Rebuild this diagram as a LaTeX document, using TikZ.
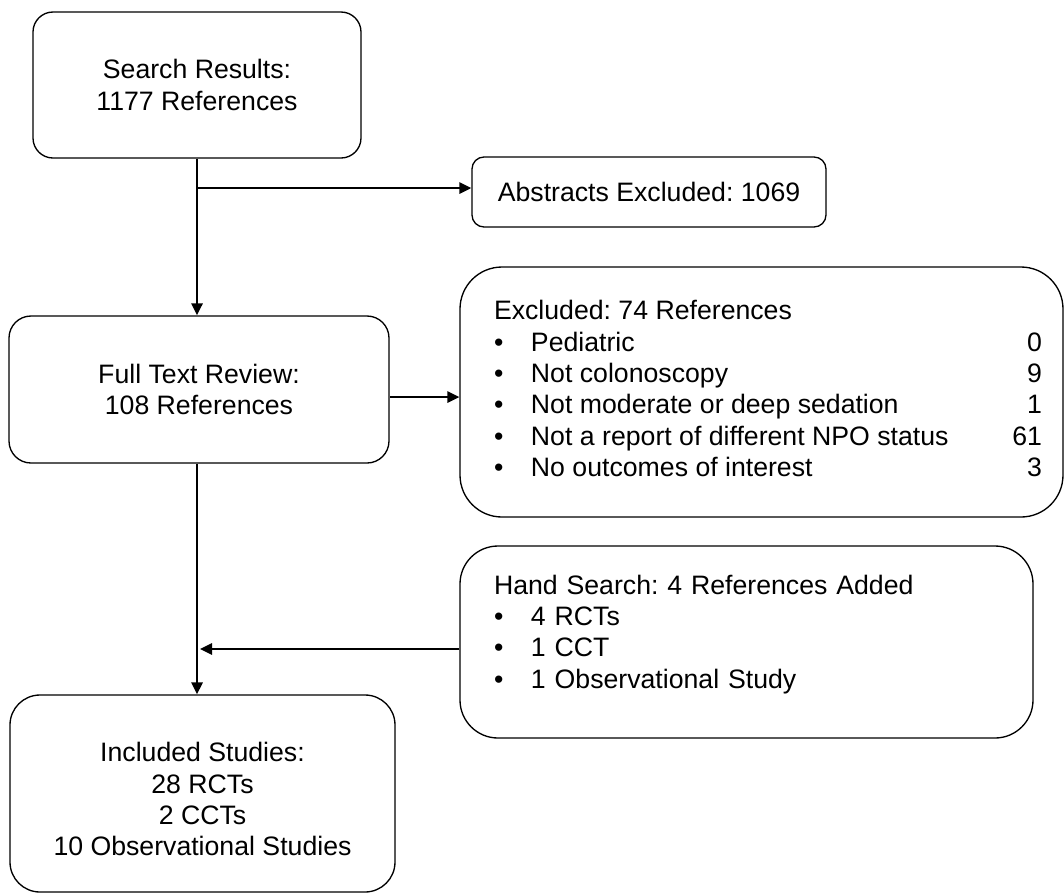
\documentclass[tikz,border=0pt]{standalone}
\usepackage{fontspec}
\setmainfont{Liberation Sans}
\usetikzlibrary{arrows.meta}
\frenchspacing
\begin{document}
\begin{tikzpicture}[x=0.75pt,y=-0.75pt,
    box/.style={draw,line width=1pt,fill=white,align=center,
      font=\fontsize{20}{23.5}\selectfont},
    arr/.style={line width=1.5pt,-{Triangle[length=9pt,width=8.5pt]}}]
  \useasboundingbox (0,0) rectangle (1064,894);
  % boxes
  \node[box,rounded corners=15pt,minimum width=246pt,minimum height=109.5pt]
    (search) at (197,85) {Search Results:\\1177 References};
  \node[box,rounded corners=9pt,minimum width=265.5pt,minimum height=52.5pt]
    (abstr) at (649,192) {Abstracts Excluded: 1069};
  \node[box,rounded corners=16.5pt,minimum width=285pt,minimum height=110.25pt]
    (fulltext) at (199,389.5) {Full Text Review:\\108 References};
  \node[box,rounded corners=31.5pt,minimum width=452.25pt,minimum height=187.5pt]
    (excl) at (761.5,392) {%
    \begin{tabular}{@{\hspace{9.75pt}}p{27.75pt}@{}p{361pt}@{}r@{}}
      \multicolumn{3}{@{\hspace{9.75pt}}l@{}}{Excluded: 74 References}\\
      \textbullet & Pediatric & 0\\
      \textbullet & Not colonoscopy & 9\\
      \textbullet & Not moderate or deep sedation & 1\\
      \textbullet & Not a report of different NPO status & 61\\
      \textbullet & No outcomes of interest & 3
    \end{tabular}};
  \node[box,align=left,text width=378.75pt,rounded corners=28.5pt,
    minimum width=429.75pt,minimum height=144pt] (hand) at (746.5,642) {%
    \begin{tabular}{@{}p{27.75pt}@{}l@{}}
      \multicolumn{2}{@{}l@{}}{Hand Search: 4 References Added}\\
      \textbullet & 4 RCTs\\
      \textbullet & 1 CCT\\
      \textbullet & 1 Observational Study\\[10.5pt]
    \end{tabular}};
  \node[box,rounded corners=22.5pt,minimum width=288.75pt,minimum height=147.75pt]
    (incl) at (202.5,793.5)
    {\rule{0pt}{23pt}Included Studies:\\28 RCTs\\2 CCTs\\10 Observational Studies};
  % connectors
  \coordinate (c1) at (197,188);
  \coordinate (c2) at (390,397);
  \coordinate (c3) at (200,649);
  \draw[arr] (search.south -| c1) -- (fulltext.north -| c1);
  \draw[arr] (c1) -- (c1 -| abstr.west);
  \draw[arr] (c2) -- (c2 -| excl.west);
  \draw[arr] (fulltext.south -| c1) -- (incl.north -| c1);
  \draw[arr] (c3 -| hand.west) -- (c3);
\end{tikzpicture}
\end{document}
